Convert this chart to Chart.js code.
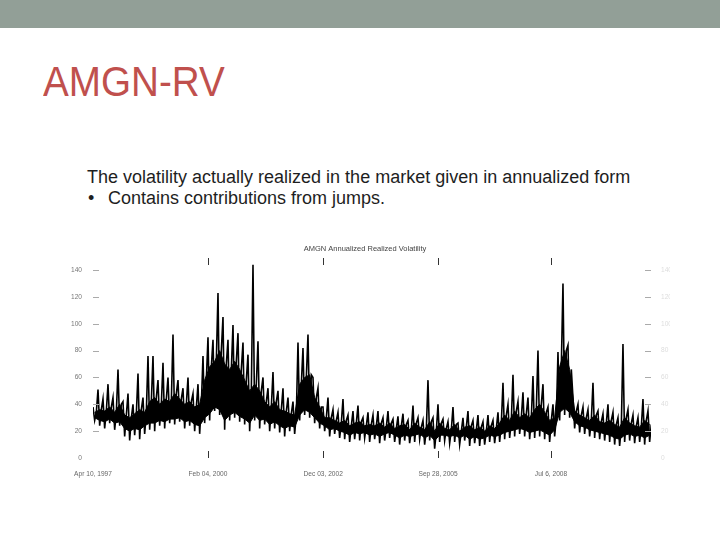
<!DOCTYPE html>
<html>
<head>
<meta charset="utf-8">
<script src="https://cdn.jsdelivr.net/npm/chart.js@4.4.0/dist/chart.umd.min.js"></script>
<style>
    body { margin: 0; width: 720px; height: 540px; background: #fff; position: relative; overflow: hidden;
           font-family: "Liberation Sans", Arial, sans-serif; }
    .bar { position: absolute; left: 0; top: 0; width: 720px; height: 28px; background: #929f97; }
    .title { position: absolute; left: 43px; top: 61px; font-size: 42px; line-height: 42px; color: #c0504d;
             transform: scaleX(0.92); transform-origin: left top; white-space: nowrap; }
    .txt { position: absolute; font-size: 18px; line-height: 21px; color: #1e1e1e; white-space: nowrap; }
    .bullet { position: absolute; left: -20px; }
    .chartbox { position: absolute; left: 60px; top: 236px; width: 610px; height: 242px; }
</style>
</head>
<body>
<div class="bar"></div>
<div class="title">AMGN-RV</div>
<div class="txt" style="left:87px; top:167px;">The volatility actually realized in the market given in annualized form</div>
<div class="txt" style="left:108px; top:188px;"><span class="bullet">•</span>Contains contributions from jumps.</div>
<div class="chartbox"><canvas id="rvChart" width="610" height="242"></canvas></div>

<script>
// Axis ticks
const xTickYears = [1997.271, 2000.093, 2002.921, 2005.740, 2008.511];
const xTickLabels = ['Apr 10, 1997', 'Feb 04, 2000', 'Dec 03, 2002', 'Sep 28, 2005', 'Jul 6, 2008'];
const yTicks = [0, 20, 40, 60, 80, 100, 120, 140];

// Sampling of the series (fractional years)
const rvStart = 1997.271;
const rvStep = 0.0409;
const rvEnd = 2010.965;

// One entry per ~1.5 month slice:
// highest spike, deepest dip, top and bottom of the dense band
const spikeTop = [38, 51, 44, 55, 45, 66, 42, 48, 40, 63,
    45, 76, 76, 58, 71, 60, 92, 58, 52, 60,
    48, 55, 76, 90, 88, 123, 105, 88, 99, 93,
    86, 77, 144, 87, 60, 52, 64, 50, 52, 45,
    42, 86, 82, 92, 60, 52, 38, 45, 36, 34,
    44, 32, 35, 39, 30, 34, 32, 35, 30, 35,
    29, 31, 33, 28, 39, 30, 28, 58, 30, 40,
    29, 27, 38, 26, 30, 35, 28, 32, 27, 32,
    28, 34, 56, 40, 62, 42, 49, 45, 61, 80,
    55, 38, 40, 79, 130, 84, 45, 40, 38, 36,
    56, 35, 33, 40, 34, 30, 85, 36, 32, 30,
    44, 35];
const bandLow = [28, 24, 22, 26, 21, 24, 16, 13, 17, 14,
    18, 21, 20, 24, 22, 26, 25, 27, 22, 24,
    20, 18, 26, 28, 35, 32, 21, 28, 30, 27,
    25, 20, 28, 22, 25, 20, 22, 19, 16, 20,
    18, 28, 32, 30, 26, 22, 20, 16, 18, 15,
    14, 12, 14, 13, 15, 12, 14, 11, 13, 15,
    12, 10, 13, 11, 12, 14, 10, 13, 7, 12,
    13, 11, 12, 10, 13, 9, 11, 9, 10, 12,
    11, 12, 14, 15, 16, 18, 16, 14, 15, 16,
    14, 12, 16, 28, 32, 30, 22, 19, 18, 16,
    15, 14, 13, 12, 10, 9, 12, 13, 11, 12,
    10, 12];
const bandTop = [34, 36, 35, 38, 34, 40, 32, 30, 33, 36,
    34, 42, 45, 40, 44, 42, 48, 44, 40, 42,
    38, 40, 58, 68, 72, 80, 70, 66, 72, 66,
    58, 50, 55, 50, 42, 38, 42, 36, 35, 33,
    32, 55, 60, 62, 45, 38, 30, 30, 28, 26,
    28, 24, 26, 27, 24, 25, 24, 26, 23, 26,
    22, 24, 25, 21, 26, 23, 21, 27, 20, 26,
    22, 21, 25, 20, 23, 24, 21, 23, 20, 24,
    22, 26, 32, 28, 35, 30, 33, 30, 36, 40,
    34, 28, 30, 68, 80, 66, 35, 32, 30, 28,
    32, 27, 26, 28, 25, 23, 30, 26, 24, 23,
    28, 25];
const bandBase = [30, 28, 27, 29, 26, 27, 22, 20, 22, 21,
    24, 26, 26, 28, 27, 29, 29, 30, 27, 28,
    25, 24, 30, 33, 38, 36, 28, 32, 34, 31,
    29, 26, 32, 28, 29, 25, 27, 24, 22, 24,
    23, 32, 36, 34, 30, 26, 24, 21, 22, 20,
    19, 17, 19, 18, 19, 17, 18, 16, 18, 19,
    17, 15, 17, 16, 17, 18, 15, 17, 13, 17,
    17, 16, 17, 15, 17, 14, 16, 14, 15, 17,
    16, 17, 19, 20, 21, 22, 21, 19, 20, 21,
    19, 17, 21, 34, 37, 34, 27, 24, 23, 21,
    20, 19, 18, 17, 15, 14, 17, 18, 16, 17,
    15, 17];

// zig-zag through each slice: spike, dip, band top
const rvValues = [];
spikeTop.forEach((v, i) => { rvValues.push(v, bandLow[i], bandTop[i]); });
const rvPoints = rvValues.map((v, i) => ({ x: rvStart + i * rvStep, y: v }));
// the dense part of the trace, one point per slice
const sliceX = i => rvStart + (i * 3 + 1) * rvStep;
const basePoints = bandBase.map((v, i) => ({ x: sliceX(i), y: v }));
const topPoints = bandTop.map((v, i) => ({ x: sliceX(i), y: v }));

// Inside tick marks, like the original plot
const insideTicks = {
    id: 'insideTicks',
    afterDraw(chart) {
        const { ctx, chartArea: a, scales } = chart;
        ctx.save();
        ctx.lineWidth = 1;
        ctx.strokeStyle = '#333';
        xTickYears.slice(1).forEach(v => {
            const px = Math.round(scales.x.getPixelForValue(v)) + 0.5;
            ctx.beginPath();
            ctx.moveTo(px, a.top); ctx.lineTo(px, a.top + 7);
            ctx.moveTo(px, a.bottom - 7); ctx.lineTo(px, a.bottom);
            ctx.stroke();
        });
        ctx.strokeStyle = '#aaa';
        yTicks.slice(1).forEach(v => {
            const py = Math.round(scales.y.getPixelForValue(v)) + 0.5;
            ctx.beginPath();
            ctx.moveTo(a.left, py); ctx.lineTo(a.left + 6, py);
            ctx.moveTo(a.right - 6, py); ctx.lineTo(a.right, py);
            ctx.stroke();
        });
        ctx.restore();
    }
};

const tickFont = { family: '"Liberation Sans", Arial, sans-serif', size: 6.6 };

new Chart(document.getElementById('rvChart').getContext('2d'), {
    type: 'line',
    data: {
        datasets: [{
            label: 'band base',
            data: basePoints,
            borderColor: '#000',
            borderWidth: 1,
            pointRadius: 0,
            tension: 0,
            fill: false
        }, {
            label: 'band top',
            data: topPoints,
            borderColor: '#000',
            backgroundColor: '#000',
            borderWidth: 1,
            pointRadius: 0,
            tension: 0,
            fill: '-1'
        }, {
            label: 'AMGN RV',
            data: rvPoints,
            borderColor: '#000',
            borderWidth: 1.6,
            pointRadius: 0,
            tension: 0,
            fill: false
        }]
    },
    options: {
        responsive: false,
        animation: false,
        layout: { padding: 0 },
        plugins: {
            legend: { display: false },
            tooltip: { enabled: false },
            title: {
                display: true,
                text: 'AMGN Annualized Realized Volatility',
                color: '#444',
                font: { family: '"Liberation Sans", Arial, sans-serif', size: 7.5, weight: 'normal' },
                padding: { top: 8, bottom: 5 }
            }
        },
        scales: {
            x: {
                type: 'linear',
                min: rvStart,
                max: rvEnd,
                grid: { display: false },
                border: { display: false },
                ticks: {
                    color: '#666',
                    font: tickFont,
                    padding: 4,
                    autoSkip: false,
                    maxRotation: 0,
                    callback: (value, index) => xTickLabels[index]
                },
                afterBuildTicks: scale => { scale.ticks = xTickYears.map(v => ({ value: v })); },
                afterFit: scale => { scale.height = 20; }
            },
            y: {
                min: 0,
                max: 149,
                position: 'left',
                grid: { display: false },
                border: { display: false },
                ticks: { color: '#777', font: tickFont, padding: 3 },
                afterBuildTicks: scale => { scale.ticks = yTicks.map(v => ({ value: v })); },
                afterFit: scale => { scale.width = 33; }
            },
            y2: {
                type: 'linear',
                min: 0,
                max: 149,
                position: 'right',
                grid: { display: false },
                border: { display: false },
                ticks: { color: '#ddd', font: tickFont, padding: 2 },
                afterBuildTicks: scale => { scale.ticks = yTicks.map(v => ({ value: v })); },
                afterFit: scale => { scale.width = 19; }
            }
        }
    },
    plugins: [insideTicks]
});
</script>
</body>
</html>
